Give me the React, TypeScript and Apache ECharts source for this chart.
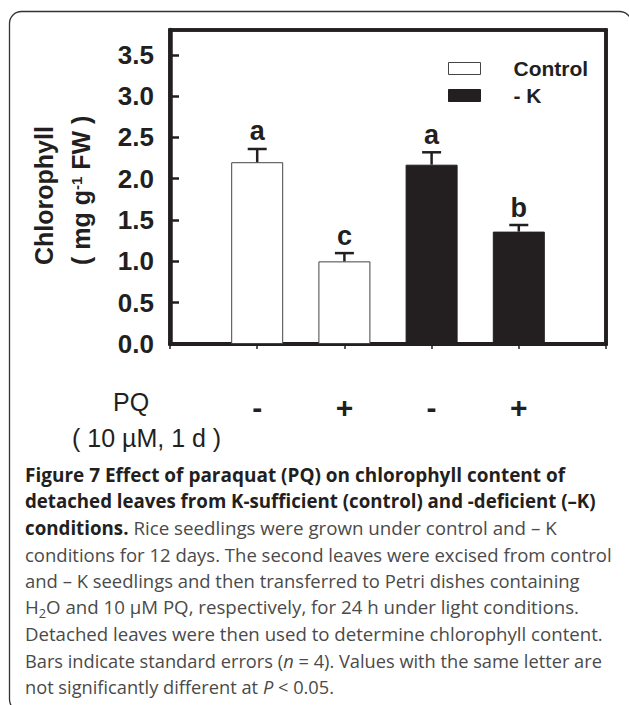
import React, { useEffect, useRef } from 'react';
import * as echarts from 'echarts';

// ---------- data ----------
const categories = ['', '-', '+', '-', '+', ''];
const seriesNames = ['Control', '- K'];
const controlIndex = [1, 2];
const controlValues = [2.2, 1.0];
const controlErrors = [0.16, 0.1];
const kIndex = [3, 4];
const kValues = [2.17, 1.36];
const kErrors = [0.15, 0.08];
const letters = ['a', 'c', 'a', 'b'];
const yMin = 0;
const yMax = 3.8;
const yInterval = 0.5;

const INK = '#231f20';
const GREY = '#4a4a4a';
const SANS = "'Liberation Sans', Arial, Helvetica, sans-serif";
const CAP = "'Open Sans', 'Noto Sans', sans-serif";
const CAP_SIZE = 19;

type Seg = { t: string; s: 'b' | 'r' | 'i' | 'sub' };
const captionLines: Seg[][] = [
  [{ t: 'Figure 7 Effect of paraquat (PQ) on chlorophyll content of', s: 'b' }],
  [{ t: 'detached leaves from K-sufficient (control) and -deficient (–K)', s: 'b' }],
  [
    { t: 'conditions.', s: 'b' },
    { t: ' Rice seedlings were grown under control and – K', s: 'r' },
  ],
  [{ t: 'conditions for 12 days. The second leaves were excised from control', s: 'r' }],
  [{ t: 'and – K seedlings and then transferred to Petri dishes containing', s: 'r' }],
  [
    { t: 'H', s: 'r' },
    { t: '2', s: 'sub' },
    { t: 'O and 10 µM PQ, respectively, for 24 h under light conditions.', s: 'r' },
  ],
  [{ t: 'Detached leaves were then used to determine chlorophyll content.', s: 'r' }],
  [
    { t: 'Bars indicate standard errors (', s: 'r' },
    { t: 'n', s: 'i' },
    { t: ' = 4). Values with the same letter are', s: 'r' },
  ],
  [
    { t: 'not significantly different at ', s: 'r' },
    { t: 'P', s: 'i' },
    { t: ' < 0.05.', s: 'r' },
  ],
];
const captionWidths = [540, 571, 532, 587, 555, 554, 578, 577, 309];

function segFont(s: Seg['s']) {
  const weight = s === 'b' ? 'bold' : 'normal';
  const style = s === 'i' ? 'italic' : 'normal';
  const size = s === 'sub' ? 13 : CAP_SIZE;
  return `${style} normal ${weight} ${size}px ${CAP}`;
}

function measureLine(line: Seg[]) {
  const ctx = document.createElement('canvas').getContext('2d');
  if (!ctx) return 0;
  let w = 0;
  for (const seg of line) {
    ctx.font = segFont(seg.s);
    w += ctx.measureText(seg.t).width;
  }
  return w;
}

export default function App() {
  const ref = useRef<HTMLDivElement>(null);

  useEffect(() => {
    if (!ref.current) return;
    const chart = echarts.init(ref.current, null, { renderer: 'svg' });

    const controlData = categories.map((_, i) => {
      const j = controlIndex.indexOf(i);
      return j >= 0 ? controlValues[j] : '-';
    });
    const kData = categories.map((_, i) => {
      const j = kIndex.indexOf(i);
      return j >= 0 ? kValues[j] : '-';
    });
    const errData = [
      ...controlIndex.map((idx, j) => [idx, controlValues[j], controlValues[j] + controlErrors[j]]),
      ...kIndex.map((idx, j) => [idx, kValues[j], kValues[j] + kErrors[j]]),
    ];

    const capRich = {
      b: { fontFamily: CAP, fontSize: CAP_SIZE, fontWeight: 'bold', fill: INK, color: INK, lineHeight: 24 },
      r: { fontFamily: CAP, fontSize: CAP_SIZE, fontWeight: 'normal', fill: GREY, color: GREY, lineHeight: 24 },
      i: { fontFamily: CAP, fontSize: CAP_SIZE, fontStyle: 'italic', fill: GREY, color: GREY, lineHeight: 24 },
      sub: { fontFamily: CAP, fontSize: 13, fill: GREY, color: GREY, lineHeight: 12, verticalAlign: 'bottom' },
    };

    const captionGraphics = captionLines.map((line, i) => {
      const measured = measureLine(line) || captionWidths[i];
      return {
        type: 'text',
        x: 25,
        y: 474.5 + i * 26.5,
        scaleX: captionWidths[i] / measured,
        silent: true,
        style: {
          text: line.map((seg) => `{${seg.s}|${seg.t}}`).join(''),
          rich: capRich,
          align: 'left',
          textAlign: 'left',
          verticalAlign: 'middle',
          textVerticalAlign: 'middle',
        },
      };
    });

    const option: any = {
      animation: false,
      backgroundColor: '#ffffff',
      textStyle: { fontFamily: SANS, color: INK },
      grid: {
        left: 170,
        right: 23,
        top: 30,
        bottom: 361,
        show: true,
        borderColor: INK,
        borderWidth: 3.6,
        backgroundColor: 'transparent',
      },
      legend: {
        orient: 'vertical',
        left: 448,
        top: 58,
        padding: 0,
        itemWidth: 32,
        itemHeight: 12,
        itemGap: 6,
        icon: 'rect',
        selectedMode: false,
        textStyle: {
          fontFamily: SANS,
          fontSize: 21,
          fontWeight: 'bold',
          color: INK,
          lineHeight: 21,
          padding: [0, 0, 0, 28],
        },
        data: [
          { name: seriesNames[0], itemStyle: { color: '#ffffff', borderColor: '#444444', borderWidth: 1 } },
          { name: seriesNames[1], itemStyle: { color: INK, borderColor: INK, borderWidth: 1 } },
        ],
      },
      xAxis: [
        {
          type: 'category',
          data: categories,
          boundaryGap: false,
          axisLine: { show: true, onZero: false, lineStyle: { color: INK, width: 4 } },
          axisTick: { show: true, interval: 0, length: 5, lineStyle: { color: INK, width: 1.5 } },
          axisLabel: {
            interval: 0,
            margin: 48,
            fontFamily: SANS,
            fontSize: 30,
            fontWeight: 'bold',
            lineHeight: 30,
            color: INK,
          },
          splitLine: { show: false },
        },
        {
          type: 'category',
          position: 'top',
          data: categories,
          boundaryGap: false,
          axisLine: { show: true, onZero: false, lineStyle: { color: INK, width: 3.6 } },
          axisTick: { show: false },
          axisLabel: { show: false },
          splitLine: { show: false },
        },
      ],
      yAxis: [
        {
          type: 'value',
          min: yMin,
          max: yMax,
          interval: yInterval,
          axisLine: { show: true, onZero: false, lineStyle: { color: INK, width: 4.5 } },
          axisTick: { show: true, inside: true, length: 9, lineStyle: { color: INK, width: 2.5 } },
          axisLabel: {
            margin: 16,
            fontFamily: SANS,
            fontSize: 26,
            fontWeight: 'bold',
            color: INK,
            showMaxLabel: false,
            padding: [5, 0, 0, 0],
            formatter: (v: number) => v.toFixed(1),
          },
          splitLine: { show: false },
        },
        {
          type: 'value',
          position: 'right',
          min: yMin,
          max: yMax,
          interval: yInterval,
          axisLine: { show: true, onZero: false, lineStyle: { color: INK, width: 3.6 } },
          axisTick: { show: false },
          axisLabel: { show: false },
          splitLine: { show: false },
        },
      ],
      series: [
        {
          name: seriesNames[0],
          type: 'bar',
          data: controlData,
          barWidth: 52,
          barGap: '-100%',
          itemStyle: { color: '#ffffff', borderColor: '#444444', borderWidth: 1 },
        },
        {
          name: seriesNames[1],
          type: 'bar',
          data: kData,
          barWidth: 52,
          barGap: '-100%',
          itemStyle: { color: INK, borderColor: INK, borderWidth: 1 },
        },
        {
          type: 'custom',
          data: errData,
          encode: { x: 0, y: [1, 2] },
          z: 5,
          renderItem: (params: any, api: any) => {
            const x = api.value(0);
            const base = api.coord([x, api.value(1)]);
            const top = api.coord([x, api.value(2)]);
            const half = 9.5;
            return {
              type: 'group',
              children: [
                {
                  type: 'line',
                  shape: { x1: base[0], y1: base[1], x2: top[0], y2: top[1] },
                  style: { stroke: INK, lineWidth: 2.5 },
                },
                {
                  type: 'line',
                  shape: { x1: top[0] - half, y1: top[1], x2: top[0] + half, y2: top[1] },
                  style: { stroke: INK, lineWidth: 2.5 },
                },
                {
                  type: 'text',
                  x: top[0],
                  y: top[1] - 4,
                  style: {
                    text: letters[params.dataIndex],
                    fontFamily: SANS,
                    fontSize: 27,
                    fontWeight: 'bold',
                    fill: INK,
                    align: 'center',
                    textAlign: 'center',
                    verticalAlign: 'bottom',
                    textVerticalAlign: 'bottom',
                  },
                },
              ],
            };
          },
        },
      ],
      graphic: [
        {
          type: 'rect',
          silent: true,
          shape: { x: 9.5, y: 11.5, width: 622, height: 700, r: 12 },
          style: { fill: 'none', stroke: '#333333', lineWidth: 1.3 },
        },
        {
          type: 'text',
          x: 44,
          y: 265,
          rotation: Math.PI / 2,
          silent: true,
          style: {
            text: 'Chlorophyll',
            fontFamily: SANS,
            fontSize: 25,
            fontWeight: 'bold',
            fill: INK,
            align: 'left',
            textAlign: 'left',
            verticalAlign: 'middle',
            textVerticalAlign: 'middle',
          },
        },
        {
          type: 'text',
          x: 81,
          y: 265,
          rotation: Math.PI / 2,
          silent: true,
          style: {
            text: '{m|( mg g}{s|-1}{m| FW )}',
            rich: {
              m: { fontFamily: SANS, fontSize: 25, fontWeight: 'bold', fill: INK, lineHeight: 25 },
              s: { fontFamily: SANS, fontSize: 15, fontWeight: 'bold', fill: INK, lineHeight: 12, verticalAlign: 'top' },
            },
            align: 'left',
            textAlign: 'left',
            verticalAlign: 'middle',
            textVerticalAlign: 'middle',
          },
        },
        {
          type: 'text',
          x: 113,
          y: 402,
          silent: true,
          style: {
            text: 'PQ',
            fontFamily: SANS,
            fontSize: 25,
            fill: INK,
            align: 'left',
            textAlign: 'left',
            verticalAlign: 'middle',
            textVerticalAlign: 'middle',
          },
        },
        {
          type: 'text',
          x: 72,
          y: 438,
          silent: true,
          style: {
            text: '( 10 µM, 1 d )',
            fontFamily: SANS,
            fontSize: 25,
            fill: INK,
            align: 'left',
            textAlign: 'left',
            verticalAlign: 'middle',
            textVerticalAlign: 'middle',
          },
        },
        ...captionGraphics,
      ],
    };

    chart.setOption(option);
    return () => chart.dispose();
  }, []);

  return (
    <div
      ref={ref}
      style={{ position: 'fixed', left: 0, top: 0, width: 629, height: 705, background: '#fff' }}
    />
  );
}
